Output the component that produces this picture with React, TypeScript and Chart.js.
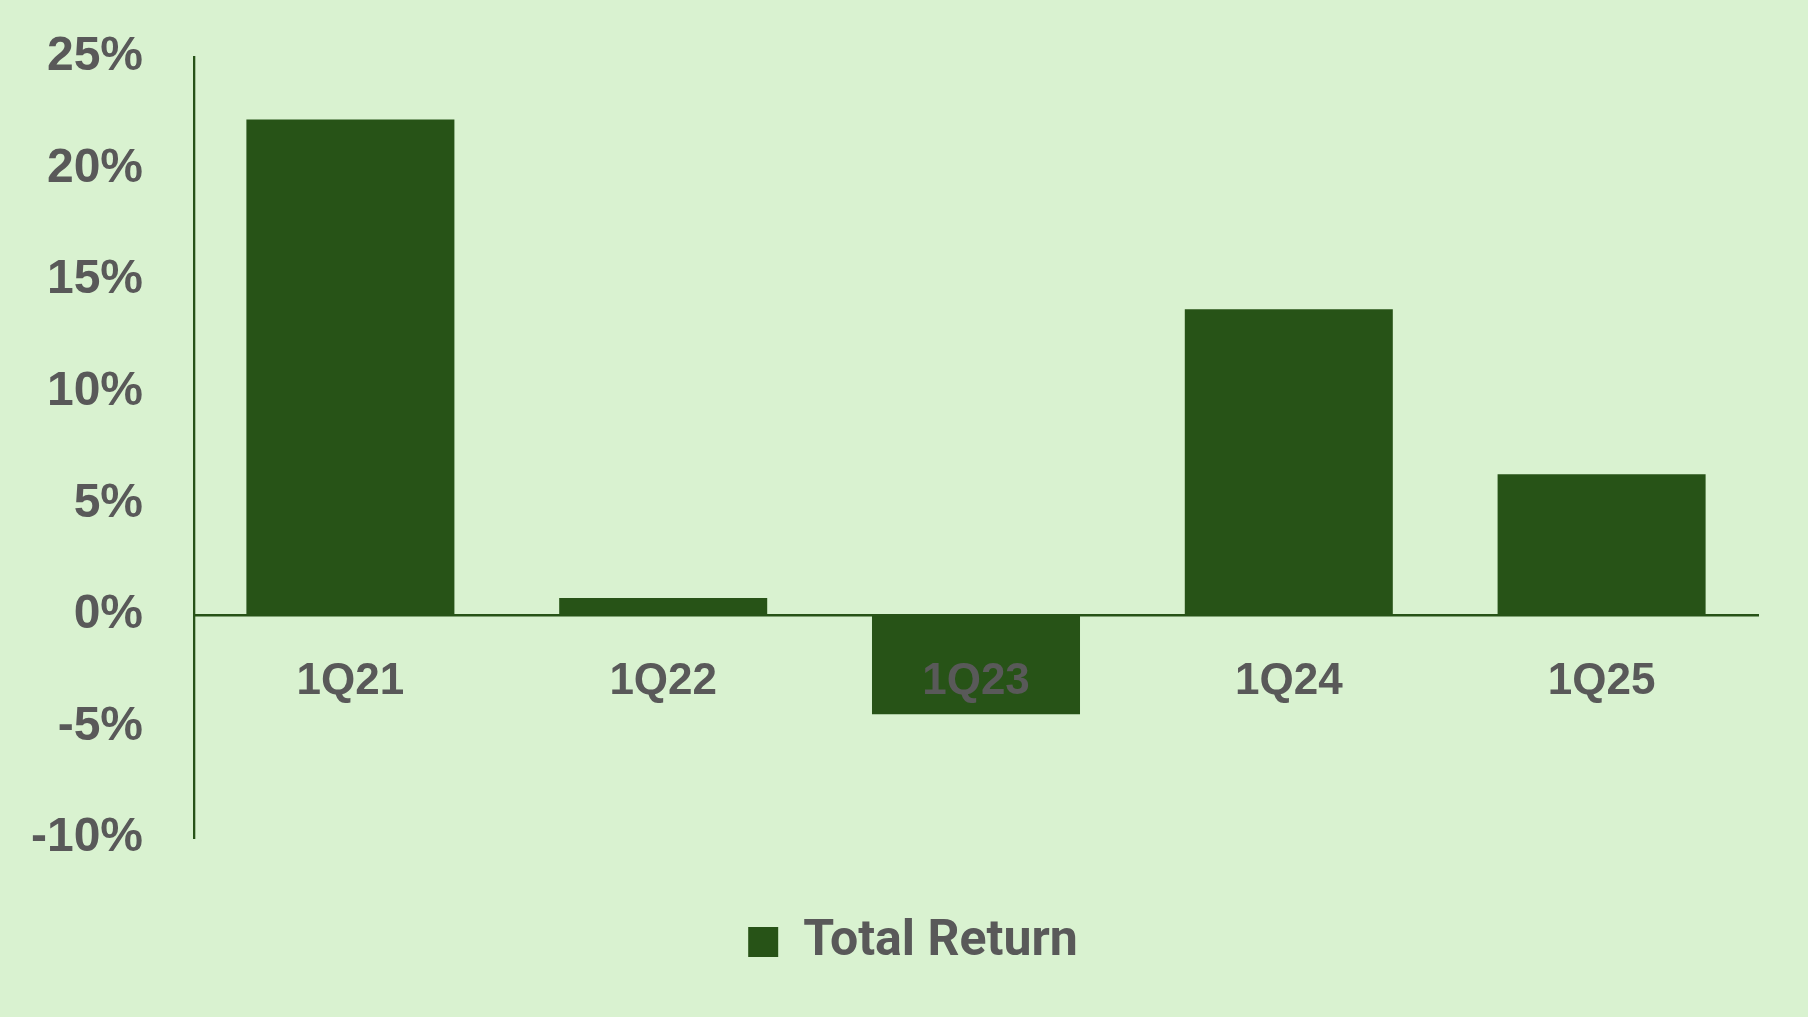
import React, { useEffect, useRef } from "react";
import { Chart, registerables } from "chart.js";

Chart.register(...registerables);

const categories = ["1Q21", "1Q22", "1Q23", "1Q24", "1Q25"];
const totalReturn = [22.2, 0.75, -4.45, 13.7, 6.3];
const yTicks = [-10, -5, 0, 5, 10, 15, 20, 25];
const seriesName = "Total Return";

const BG = "#D9F2D0";
const BAR = "#275317";
const TEXT = "#595959";

export default function App() {
  const ref = useRef<HTMLCanvasElement | null>(null);

  useEffect(() => {
    if (!ref.current) return;
    const chart = new Chart(ref.current, {
      type: "bar",
      data: {
        labels: categories,
        datasets: [
          {
            label: seriesName,
            data: totalReturn,
            backgroundColor: BAR,
            borderWidth: 0,
            barPercentage: 0.665,
            categoryPercentage: 1,
          },
        ],
      },
      options: {
        animation: false,
        responsive: false,
        maintainAspectRatio: false,
        layout: { padding: { left: 30, top: 57, right: 12, bottom: 40 } },
        plugins: {
          tooltip: { enabled: false },
          legend: {
            position: "bottom",
            labels: {
              color: TEXT,
              boxWidth: 30,
              boxHeight: 30,
              padding: 79,
              font: { family: "Roboto, 'Liberation Sans', Arial", size: 50, weight: "bold" },
            },
          },
        },
        scales: {
          x: {
            position: { y: 0 } as any,
            grid: { display: false, drawTicks: false, z: 1 },
            border: { display: true, color: BAR, width: 2.5, z: 1 },
            ticks: {
              color: TEXT,
              padding: 41,
              z: 1,
              font: { family: "'Liberation Sans', Arial", size: 44, weight: "bold" },
            },
          },
          y: {
            min: -10,
            max: 25,
            afterBuildTicks: (axis: any) => {
              axis.ticks = yTicks.map((v) => ({ value: v }));
            },
            afterFit: (axis: any) => {
              axis.width = 164;
              axis.paddingTop = 29;
              axis.paddingBottom = 29;
            },
            grid: { display: false, drawTicks: false },
            border: { display: true, color: BAR, width: 2.3 },
            ticks: {
              color: TEXT,
              padding: 51,
              callback: (v: any) => `${v}%`,
              font: { family: "'Liberation Sans', Arial", size: 48, weight: "bold" },
            },
          },
          yRight: {
            type: "linear",
            position: "right",
            display: true,
            grid: { display: false, drawTicks: false },
            border: { display: false },
            ticks: { display: false },
            afterFit: (axis: any) => {
              axis.width = 38;
              axis.paddingTop = 0;
              axis.paddingBottom = 0;
            },
          },
        },
      },
    });
    return () => chart.destroy();
  }, []);

  return (
    <div style={{ position: "fixed", left: 0, top: 0, width: 1808, height: 1017, background: BG }}>
      <canvas ref={ref} width={1808} height={1017} style={{ display: "block" }} />
    </div>
  );
}
